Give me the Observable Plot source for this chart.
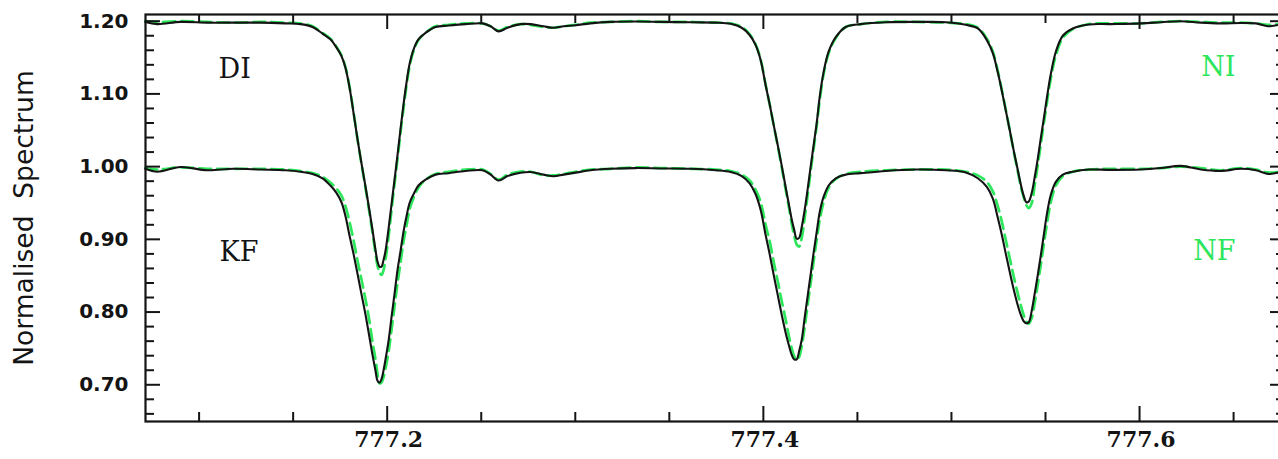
<!DOCTYPE html>
<html><head><meta charset="utf-8">
<script src="https://cdn.jsdelivr.net/npm/d3@7"></script>
<script src="https://cdn.jsdelivr.net/npm/@observablehq/plot@0.6"></script>
<style>
html,body{margin:0;padding:0;background:#fff;overflow:hidden;}
</style></head><body><div id="chart"></div>
<script>
// wavelength (nm)
const wavelength = [
777.0714, 777.0778, 777.0901, 777.1044, 777.1182, 777.1326, 777.1459, 777.1539, 777.1603, 777.1656,
777.1698, 777.1730, 777.1757, 777.1778, 777.1799, 777.1821, 777.1842, 777.1863, 777.1885, 777.1906,
777.1922, 777.1938, 777.1948, 777.1959, 777.1970, 777.1980, 777.1991, 777.2007, 777.2023, 777.2039,
777.2055, 777.2071, 777.2087, 777.2103, 777.2119, 777.2140, 777.2166, 777.2204, 777.2257, 777.2326,
777.2417, 777.2507, 777.2550, 777.2592, 777.2640, 777.2709, 777.2762, 777.2831, 777.2885, 777.2938,
777.3002, 777.3081, 777.3188, 777.3321, 777.3454, 777.3613, 777.3746, 777.3826, 777.3885, 777.3927,
777.3959, 777.3986, 777.4012, 777.4034, 777.4055, 777.4076, 777.4097, 777.4119, 777.4135, 777.4151,
777.4164, 777.4177, 777.4190, 777.4204, 777.4220, 777.4236, 777.4252, 777.4268, 777.4284, 777.4300,
777.4321, 777.4347, 777.4385, 777.4438, 777.4518, 777.4651, 777.4810, 777.4970, 777.5076, 777.5140,
777.5188, 777.5220, 777.5246, 777.5268, 777.5289, 777.5310, 777.5331, 777.5353, 777.5369, 777.5385,
777.5398, 777.5411, 777.5427, 777.5443, 777.5459, 777.5475, 777.5491, 777.5507, 777.5528, 777.5555,
777.5592, 777.5645, 777.5730, 777.5847, 777.6007, 777.6113, 777.6220, 777.6326, 777.6432, 777.6539,
777.6619, 777.6682, 777.6741
];
// DI (black, upper, offset +0.2)
const DI = [
1.199, 1.196, 1.199, 1.198, 1.198, 1.198, 1.197, 1.196, 1.192, 1.183,
1.175, 1.164, 1.152, 1.136, 1.110, 1.074, 1.038, 1.005, 0.972, 0.939,
0.9125, 0.885, 0.870, 0.8625, 0.8625, 0.871, 0.884, 0.914, 0.948, 0.982,
1.016, 1.052, 1.086, 1.116, 1.141, 1.161, 1.175, 1.184, 1.192, 1.194,
1.196, 1.197, 1.193, 1.186, 1.191, 1.196, 1.196, 1.193, 1.191, 1.193,
1.1945, 1.197, 1.199, 1.1995, 1.199, 1.1985, 1.198, 1.1964, 1.191, 1.181,
1.167, 1.146, 1.112, 1.085, 1.057, 1.030, 1.002, 0.971, 0.949, 0.927,
0.913, 0.901, 0.902, 0.917, 0.941, 0.970, 1.001, 1.031, 1.061, 1.097,
1.131, 1.158, 1.178, 1.192, 1.196, 1.1985, 1.199, 1.1985, 1.195, 1.190,
1.174, 1.156, 1.130, 1.104, 1.077, 1.050, 1.022, 0.995, 0.975, 0.959,
0.951, 0.952, 0.964, 0.986, 1.011, 1.039, 1.066, 1.094, 1.127, 1.158,
1.180, 1.190, 1.1955, 1.196, 1.197, 1.1985, 1.200, 1.198, 1.197, 1.1975,
1.197, 1.193, 1.195
];
// NI (green dashed, upper)
const NI = [
1.200, 1.199, 1.200, 1.199, 1.198, 1.199, 1.198, 1.197, 1.193, 1.184,
1.176, 1.165, 1.153, 1.137, 1.111, 1.075, 1.038, 1.004, 0.970, 0.936,
0.909, 0.880, 0.864, 0.855, 0.851, 0.857, 0.872, 0.903, 0.940, 0.976,
1.011, 1.047, 1.081, 1.112, 1.138, 1.159, 1.174, 1.184, 1.193, 1.195,
1.197, 1.197, 1.193, 1.187, 1.192, 1.196, 1.195, 1.192, 1.191, 1.193,
1.195, 1.198, 1.199, 1.200, 1.199, 1.199, 1.198, 1.197, 1.192, 1.182,
1.168, 1.147, 1.113, 1.085, 1.057, 1.029, 1.000, 0.968, 0.945, 0.921,
0.905, 0.893, 0.890, 0.902, 0.930, 0.962, 0.995, 1.026, 1.057, 1.092,
1.128, 1.156, 1.177, 1.192, 1.196, 1.199, 1.199, 1.198, 1.196, 1.191,
1.176, 1.158, 1.132, 1.105, 1.078, 1.050, 1.021, 0.993, 0.972, 0.957,
0.947, 0.943, 0.950, 0.975, 1.002, 1.031, 1.059, 1.087, 1.121, 1.153,
1.177, 1.189, 1.196, 1.197, 1.197, 1.199, 1.200, 1.199, 1.198, 1.198,
1.197, 1.195, 1.196
];
// KF (black, lower)
const KF = [
0.997, 0.993, 0.9995, 0.995, 0.997, 0.996, 0.995, 0.993, 0.990, 0.984,
0.974, 0.964, 0.951, 0.932, 0.906, 0.880, 0.853, 0.825, 0.796, 0.765,
0.741, 0.719, 0.706, 0.703, 0.708, 0.719, 0.735, 0.760, 0.793, 0.825,
0.858, 0.884, 0.911, 0.932, 0.950, 0.962, 0.974, 0.982, 0.989, 0.991,
0.994, 0.995, 0.989, 0.981, 0.987, 0.9915, 0.9926, 0.989, 0.9867, 0.989,
0.9917, 0.995, 0.997, 0.998, 0.9975, 0.997, 0.995, 0.9926, 0.987, 0.977,
0.962, 0.940, 0.906, 0.879, 0.851, 0.824, 0.797, 0.771, 0.755, 0.741,
0.735, 0.735, 0.746, 0.762, 0.793, 0.823, 0.853, 0.883, 0.911, 0.938,
0.959, 0.974, 0.984, 0.989, 0.991, 0.994, 0.996, 0.995, 0.992, 0.984,
0.972, 0.956, 0.930, 0.906, 0.880, 0.855, 0.831, 0.809, 0.796, 0.787,
0.7845, 0.786, 0.802, 0.826, 0.851, 0.878, 0.906, 0.934, 0.961, 0.979,
0.989, 0.993, 0.996, 0.9955, 0.996, 0.998, 1.001, 0.996, 0.994, 0.997,
0.995, 0.990, 0.992
];
// NF (green dashed, lower)
const NF = [
0.998, 0.996, 0.999, 0.997, 0.997, 0.997, 0.996, 0.994, 0.991, 0.986,
0.978, 0.970, 0.960, 0.946, 0.925, 0.899, 0.871, 0.845, 0.817, 0.787,
0.759, 0.735, 0.716, 0.702, 0.703, 0.710, 0.722, 0.745, 0.775, 0.808,
0.840, 0.868, 0.897, 0.919, 0.941, 0.957, 0.971, 0.982, 0.990, 0.993,
0.996, 0.996, 0.990, 0.982, 0.989, 0.993, 0.993, 0.988, 0.988, 0.990,
0.993, 0.996, 0.997, 0.999, 0.998, 0.997, 0.996, 0.994, 0.989, 0.981,
0.968, 0.951, 0.920, 0.897, 0.869, 0.843, 0.816, 0.789, 0.768, 0.750,
0.739, 0.734, 0.738, 0.753, 0.780, 0.811, 0.841, 0.871, 0.900, 0.927,
0.952, 0.971, 0.983, 0.990, 0.993, 0.995, 0.996, 0.996, 0.993, 0.988,
0.979, 0.966, 0.946, 0.924, 0.899, 0.874, 0.849, 0.825, 0.809, 0.795,
0.787, 0.784, 0.792, 0.813, 0.838, 0.865, 0.893, 0.920, 0.951, 0.974,
0.987, 0.993, 0.996, 0.997, 0.997, 0.998, 1.000, 0.998, 0.995, 0.998,
0.996, 0.992, 0.993
];

const yMajorTicks = [0.70, 0.80, 0.90, 1.00, 1.10, 1.20];
const yMinorTicks = [0.66, 0.68, 0.72, 0.74, 0.76, 0.78, 0.82, 0.84, 0.86, 0.88, 0.92, 0.94, 0.96, 0.98,
                     1.02, 1.04, 1.06, 1.08, 1.12, 1.14, 1.16, 1.18];
const xMajorTicks = [777.2, 777.4, 777.6];
const xMinorTicks = [777.10, 777.15, 777.25, 777.30, 777.35, 777.45, 777.50, 777.55, 777.65];
const yTitle = "Normalised\u00a0\u00a0Spectrum";
const blackLabels = ["DI", "KF"];
const greenLabels = ["NI", "NF"];

const W = 1278, H = 459;
const mL = 145, mR = -7, mT = 14, mB = 38;
const FW = W - mL - mR, FH = H - mT - mB;
const green = "#2ee65c", ink = "#141414";

const table = wavelength.map((w, i) => ({w, DI: DI[i], NI: NI[i], KF: KF[i], NF: NF[i]}));

const tickStyle = {stroke: ink, strokeWidth: 2};
const labelFont = {fontFamily: "DejaVu Serif", fontSize: 27};
const plot = Plot.plot({
  width: W, height: H,
  marginLeft: mL, marginRight: mR, marginTop: mT, marginBottom: mB,
  x: {domain: [777.0715, 777.6776], axis: null},
  y: {domain: [0.6495, 1.2092], axis: null},
  marks: [
    Plot.line(table, {x: "w", y: "NI", stroke: green, strokeWidth: 2.7, strokeDasharray: "12,6", curve: "catmull-rom"}),
    Plot.line(table, {x: "w", y: "NF", stroke: green, strokeWidth: 2.7, strokeDasharray: "12,6", curve: "catmull-rom"}),
    Plot.line(table, {x: "w", y: "DI", stroke: ink, strokeWidth: 2.1, curve: "catmull-rom"}),
    Plot.line(table, {x: "w", y: "KF", stroke: ink, strokeWidth: 2.1, curve: "catmull-rom"}),
    // ticks (inward) on all four sides
    Plot.tickY(yMajorTicks, {y: d => d, insetRight: FW - 15, ...tickStyle}),
    Plot.tickY(yMinorTicks, {y: d => d, insetRight: FW - 9, ...tickStyle}),
    Plot.tickY(yMajorTicks, {y: d => d, insetLeft: FW - 15, ...tickStyle}),
    Plot.tickY(yMinorTicks, {y: d => d, insetLeft: FW - 9, ...tickStyle}),
    Plot.tickX(xMajorTicks, {x: d => d, insetTop: FH - 15, ...tickStyle}),
    Plot.tickX(xMinorTicks, {x: d => d, insetTop: FH - 9, ...tickStyle}),
    Plot.tickX(xMajorTicks, {x: d => d, insetBottom: FH - 15, ...tickStyle}),
    Plot.tickX(xMinorTicks, {x: d => d, insetBottom: FH - 9, ...tickStyle}),
    Plot.frame({stroke: ink, strokeWidth: 2.2}),
    // tick labels
    Plot.text(yMajorTicks, {y: d => d, text: d => d.toFixed(2), frameAnchor: "left", dx: -17, textAnchor: "end",
      fontFamily: "DejaVu Sans", fontWeight: "bold", fontSize: 20, fill: ink}),
    Plot.text(xMajorTicks, {x: d => d, text: d => d.toFixed(1), frameAnchor: "bottom", dy: 25.5, dx: 1.5,
      fontFamily: "DejaVu Serif", fontWeight: "bold", fontSize: 22, fill: ink}),
    // axis title
    Plot.text([yTitle], {text: d => d, frameAnchor: "left", dx: -121, rotate: -90, textAnchor: "middle",
      lineAnchor: "middle", fontFamily: "DejaVu Sans", fontSize: 26.5, fill: ink}),
    // series labels
    Plot.text([blackLabels[0]], {text: d => d, frameAnchor: "top-left", dx: 73, dy: 44.3, ...labelFont, fill: ink}),
    Plot.text([blackLabels[1]], {text: d => d, frameAnchor: "top-left", dx: 74, dy: 227.7, ...labelFont, fill: ink}),
    Plot.text([greenLabels[0]], {text: d => d, frameAnchor: "top-right", dx: -50, dy: 42.5, ...labelFont, fill: green}),
    Plot.text([greenLabels[1]], {text: d => d, frameAnchor: "top-right", dx: -50, dy: 226, ...labelFont, fill: green})
  ]
});
document.getElementById("chart").appendChild(plot);
</script>
</body></html>
